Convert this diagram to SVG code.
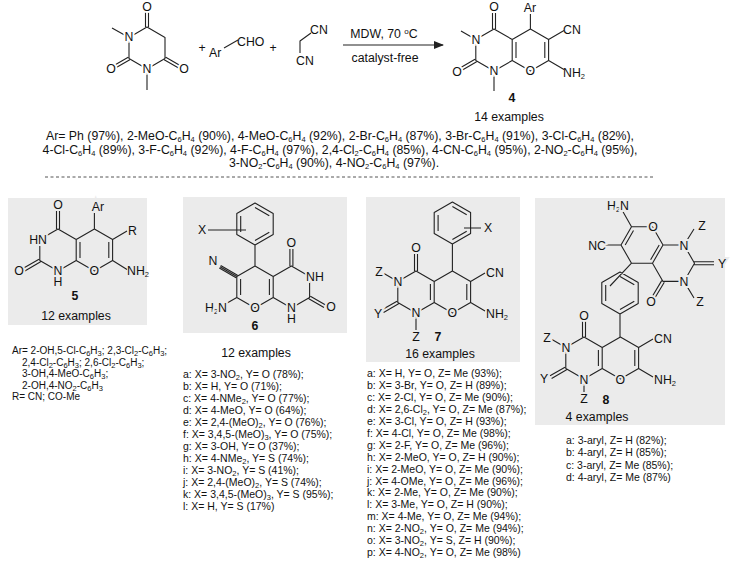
<svg xmlns="http://www.w3.org/2000/svg" width="732" height="563" viewBox="0 0 732 563">
<style>
text{font-family:"Liberation Sans",Arial,sans-serif;fill:#111}
.t{font-size:12.3px}
.l{font-size:10.5px}
.l5{font-size:10px}
.s{font-size:7.5px;baseline-shift:-2px}
.u{font-size:8px;baseline-shift:4px}
.b{font-weight:bold}
.c{text-anchor:middle}
.e{text-anchor:end}
.w{paint-order:stroke;stroke:#fff;stroke-width:4px}
.g{paint-order:stroke;stroke:#ebebeb;stroke-width:4px}
.bd{fill:none;stroke:#222;stroke-width:1.1;stroke-linejoin:round}
.box{fill:#ebebeb}
</style>
<defs><marker id="ah" markerWidth="10" markerHeight="8" refX="9" refY="4" orient="auto" markerUnits="userSpaceOnUse"><path d="M0,0 L10,4 L0,8 Z" fill="#222"/></marker></defs>
<rect class="box" x="8" y="198" width="139" height="127"/>
<rect class="box" x="183" y="197" width="164" height="136"/>
<rect class="box" x="366" y="197" width="154" height="165"/>
<rect class="box" x="535" y="198" width="190" height="227"/>
<g id="connectors">
<line x1="343" y1="45" x2="443" y2="45" stroke="#222" stroke-width="1.2" marker-end="url(#ah)"/>
<line x1="45" y1="177" x2="655" y2="177" stroke="#555" stroke-width="1" stroke-dasharray="3,2.5"/>
</g>
<g id="reactant1">
<path class="bd" d="M147,27 L165,37.5 L165,58.5 L147,69 L129,58.5 L129,37.5 Z M145.5,27 V12 M148.5,27 V12 M165.8,57.2 L180.5,65.7 M164.2,59.8 L179,68.3 M129.8,59.8 L115,68.3 M128.2,57.2 L113.5,65.7 M129,37.5 L112,28 M147,69 V90"/>
<text class="t c w" x="147" y="11">O</text><text class="t c w" x="129" y="41">N</text><text class="t c w" x="147" y="73">N</text><text class="t c w" x="111" y="73">O</text><text class="t c w" x="184" y="73">O</text>
</g>
<g id="aldehyde">
<text class="t c" x="202" y="52">+</text>
<path class="bd" d="M224,48 L238,40"/>
<text class="t" x="209" y="57">Ar</text><text class="t" x="237" y="46">CHO</text>
<text class="t c" x="273" y="52">+</text>
</g>
<g id="malononitrile">
<path class="bd" d="M311,33 L300,41 V53"/>
<text class="t" x="310" y="34">CN</text><text class="t c" x="305" y="65">CN</text>
</g>
<g id="conditions">
<text class="t c" x="384" y="38">MDW, 70 <tspan class="u">o</tspan>C</text>
<text class="t c" x="385" y="62">catalyst-free</text>
</g>
<g id="product4">
<path class="bd" d="M494,29 L512.2,39.5 L512.2,60.5 L494,71 L475.8,60.5 L475.8,39.5 Z M512.2,39.5 L530.4,29 L548.6,39.5 L548.6,60.5 L530.4,71 L512.2,60.5 M516,42 V58 M544.8,42 V58 M492.5,29 V13 M495.5,29 V13 M476.6,61.8 L462,70.3 M475,59.2 L460.4,67.7 M475.8,39.5 L461,31 M494,71 V91 M530.4,29 V14 M548.6,39.5 L564,30.5 M548.6,60.5 L564,69.5"/>
<text class="t c w" x="494" y="11">O</text><text class="t c w" x="530" y="12">Ar</text><text class="t c w" x="476" y="44">N</text><text class="t c w" x="494" y="75">N</text><text class="t c w" x="530.4" y="75">O</text><text class="t c w" x="457" y="76">O</text>
<text class="t" x="563" y="34">CN</text><text class="t" x="563" y="77">NH<tspan class="s">2</tspan></text>
<text class="t c b" x="512" y="102">4</text>
<text class="t c" x="509" y="121">14 examples</text>
</g>
<g id="arlist" class="t">
<text class="c" x="340" y="140">Ar= Ph (97%), 2-MeO-C<tspan class="s">6</tspan>H<tspan class="s">4</tspan> (90%), 4-MeO-C<tspan class="s">6</tspan>H<tspan class="s">4</tspan> (92%), 2-Br-C<tspan class="s">6</tspan>H<tspan class="s">4</tspan> (87%), 3-Br-C<tspan class="s">6</tspan>H<tspan class="s">4</tspan> (91%), 3-Cl-C<tspan class="s">6</tspan>H<tspan class="s">4</tspan> (82%),</text>
<text class="c" x="340" y="153.5">4-Cl-C<tspan class="s">6</tspan>H<tspan class="s">4</tspan> (89%), 3-F-C<tspan class="s">6</tspan>H<tspan class="s">4</tspan> (92%), 4-F-C<tspan class="s">6</tspan>H<tspan class="s">4</tspan> (97%), 2,4-Cl<tspan class="s">2</tspan>-C<tspan class="s">6</tspan>H<tspan class="s">4</tspan> (85%), 4-CN-C<tspan class="s">6</tspan>H<tspan class="s">4</tspan> (95%), 2-NO<tspan class="s">2</tspan>-C<tspan class="s">6</tspan>H<tspan class="s">4</tspan> (95%),</text>
<text class="c" x="334" y="167">3-NO<tspan class="s">2</tspan>-C<tspan class="s">6</tspan>H<tspan class="s">4</tspan> (90%), 4-NO<tspan class="s">2</tspan>-C<tspan class="s">6</tspan>H<tspan class="s">4</tspan> (97%).</text>
</g>
<g id="node5">
<path class="bd" d="M58,229 L76.2,239.5 L76.2,260.5 L58,271 L39.8,260.5 L39.8,239.5 Z M76.2,239.5 L94.4,229 L112.6,239.5 L112.6,260.5 L94.4,271 L76.2,260.5 M80,242 V258 M108.8,242 V258 M56.5,229 V211 M59.5,229 V211 M40.6,261.8 L24,271.4 M39,259.2 L22.4,268.8 M94.4,229 V213 M112.6,239.5 L127,231 M112.6,260.5 L127,269.5"/>
<text class="t c g" x="58" y="209">O</text><text class="t c g" x="98" y="211">Ar</text><text class="t e g" x="47" y="244">HN</text><text class="t c g" x="58" y="275">N</text><text class="t c" x="58" y="286">H</text><text class="t c g" x="94.4" y="275">O</text><text class="t c g" x="19" y="275">O</text>
<text class="t" x="128" y="235">R</text><text class="t" x="127" y="275">NH<tspan class="s">2</tspan></text>
<text class="t c b" x="75" y="300">5</text>
<text class="t c" x="76" y="320">12 examples</text>
</g>
<g id="list5" class="l5">
<text x="12" y="354">Ar= 2-OH,5-Cl-C<tspan class="s">6</tspan>H<tspan class="s">3</tspan>; 2,3-Cl<tspan class="s">2</tspan>-C<tspan class="s">6</tspan>H<tspan class="s">3</tspan>;</text>
<text x="22" y="365.5">2,4-Cl<tspan class="s">2</tspan>-C<tspan class="s">6</tspan>H<tspan class="s">3</tspan>; 2,6-Cl<tspan class="s">2</tspan>-C<tspan class="s">6</tspan>H<tspan class="s">3</tspan>;</text>
<text x="22" y="377">3-OH,4-MeO-C<tspan class="s">6</tspan>H<tspan class="s">3</tspan>;</text>
<text x="22" y="388.5">2-OH,4-NO<tspan class="s">2</tspan>-C<tspan class="s">6</tspan>H<tspan class="s">3</tspan></text>
<text x="12" y="400">R= CN; CO-Me</text>
</g>
<g id="node6">
<path class="bd" d="M255,266 L273.2,276.5 L273.2,297.5 L255,308 L236.8,297.5 L236.8,276.5 Z M273.2,276.5 L291.4,266 L309.6,276.5 L309.6,297.5 L291.4,308 L273.2,297.5 M269.4,279 V295 M240.6,279 V295 M289.9,266 V249 M292.9,266 V249 M308.8,298.8 L324,307.6 M310.4,296.2 L325.6,305 M236.8,297.5 L221,306.6 M236.8,276.5 L220,266.8 M237.5,275.3 L220.7,265.6 M236.1,277.7 L219.3,268 M255,203 L273.2,213.5 L273.2,234.5 L255,245 L236.8,234.5 L236.8,213.5 Z M255,207.5 L269.3,215.8 M269.3,232.2 L255,240.5 M240.7,232 V216 M255,245 V266 M208,230 L246,230"/>
<text class="t c g" x="291.4" y="247">O</text><text class="t g" x="306" y="281">NH</text><text class="t c g" x="291.4" y="312">N</text><text class="t c" x="291.4" y="323">H</text><text class="t c g" x="255" y="312">O</text><text class="t c g" x="331" y="311">O</text><text class="t c g" x="213" y="265">N</text><text class="t e g" x="227" y="312">H<tspan class="s">2</tspan>N</text><text class="t c g" x="202" y="234">X</text>
<text class="t c b" x="255" y="330">6</text>
</g>
<g id="list6" class="l">
<text class="t c" x="256" y="357">12 examples</text>
<text x="183" y="378">a: X= 3-NO<tspan class="s">2</tspan>, Y= O (78%);</text>
<text x="183" y="390">b: X= H, Y= O (71%);</text>
<text x="183" y="402">c: X= 4-NMe<tspan class="s">2</tspan>, Y= O (77%);</text>
<text x="183" y="414">d: X= 4-MeO, Y= O (64%);</text>
<text x="183" y="426">e: X= 2,4-(MeO)<tspan class="s">2</tspan>, Y= O (76%);</text>
<text x="183" y="438">f: X= 3,4,5-(MeO)<tspan class="s">3</tspan>, Y= O (75%);</text>
<text x="183" y="450">g: X= 3-OH, Y= O (37%);</text>
<text x="183" y="462">h: X= 4-NMe<tspan class="s">2</tspan>, Y= S (74%);</text>
<text x="183" y="474">i: X= 3-NO<tspan class="s">2</tspan>, Y= S (41%);</text>
<text x="183" y="486">j: X= 2,4-(MeO)<tspan class="s">2</tspan>, Y= S (74%);</text>
<text x="183" y="498">k: X= 3,4,5-(MeO)<tspan class="s">3</tspan>, Y= S (95%);</text>
<text x="183" y="510">l: X= H, Y= S (17%)</text>
</g>
<g id="node7">
<path class="bd" d="M416,271 L434.2,281.5 L434.2,302.5 L416,313 L397.8,302.5 L397.8,281.5 Z M434.2,281.5 L452.4,271 L470.6,281.5 L470.6,302.5 L452.4,313 L434.2,302.5 M430.4,284 V300 M466.8,284 V300 M414.5,271 V254 M417.5,271 V254 M397.8,281.5 L384,273.5 M397,301.2 L382,309.8 M398.6,303.8 L383.6,312.4 M416,313 V331 M470.6,281.5 L485,273 M470.6,302.5 L485,311 M452.4,202 L470.6,212.5 L470.6,233.5 L452.4,244 L434.2,233.5 L434.2,212.5 Z M452.4,206.5 L466.7,214.8 M466.7,231.2 L452.4,239.5 M438.1,231 V215 M452.4,244 V271 M464,228 L481,228"/>
<text class="t c g" x="416" y="252">O</text><text class="t c g" x="379" y="276">Z</text><text class="t c g" x="398" y="286">N</text><text class="t c g" x="378" y="318">Y</text><text class="t c g" x="416" y="317">N</text><text class="t c g" x="416" y="341">Z</text><text class="t c g" x="452.4" y="317">O</text>
<text class="t" x="486" y="277">CN</text><text class="t" x="486" y="318">NH<tspan class="s">2</tspan></text><text class="t c g" x="488" y="232">X</text>
<text class="t c b" x="438" y="341">7</text>
<text class="t c" x="440" y="358">16 examples</text>
</g>
<g id="list7" class="l">
<text x="367" y="377">a: X= H, Y= O, Z= Me (93%);</text>
<text x="367" y="389">b: X= 3-Br, Y= O, Z= H (89%);</text>
<text x="367" y="401">c: X= 2-Cl, Y= O, Z= Me (90%);</text>
<text x="367" y="413">d: X= 2,6-Cl<tspan class="s">2</tspan>, Y= O, Z= Me (87%);</text>
<text x="367" y="424.5">e: X= 3-Cl, Y= O, Z= H (93%);</text>
<text x="367" y="436.5">f: X= 4-Cl, Y= O, Z= Me (98%);</text>
<text x="367" y="448.5">g: X= 2-F, Y= O, Z= Me (96%);</text>
<text x="367" y="460.5">h: X= 2-MeO, Y= O, Z= H (90%);</text>
<text x="367" y="472.5">i: X= 2-MeO, Y= O, Z= Me (90%);</text>
<text x="367" y="484.5">j: X= 4-OMe, Y= O, Z= Me (96%);</text>
<text x="367" y="496">k: X= 2-Me, Y= O, Z= Me (90%);</text>
<text x="367" y="508">l: X= 3-Me, Y= O, Z= H (90%);</text>
<text x="367" y="520">m: X= 4-Me, Y= O, Z= Me (94%);</text>
<text x="367" y="532">n: X= 2-NO<tspan class="s">2</tspan>, Y= O, Z= Me (94%);</text>
<text x="367" y="544">o: X= 3-NO<tspan class="s">2</tspan>, Y= S, Z= H (90%);</text>
<text x="367" y="556">p: X= 4-NO<tspan class="s">2</tspan>, Y= O, Z= Me (98%)</text>
</g>
<g id="node8">
<path class="bd" d="M631.5,226.8 L652.5,226.8 L663,245 L652.5,263.2 L631.5,263.2 L621,245 Z M663,245 L684,245 L694.5,263.2 L684,281.4 L663,281.4 L652.5,263.2 M625.2,245 L633.5,230.5 M659.2,245 L650.6,259.8 M631.5,226.8 L622,210 M621,245 L605,245 M684,245 L694,229 M693.7,261.7 L714,261.7 M693.7,264.7 L714,264.7 M684,281.4 L694,298 M661.7,280.6 L651.5,297.7 M664.3,282.2 L654.1,299.3 M631.5,263.2 L610,286 M620,272 L638.2,282.5 L638.2,303.5 L620,314 L601.8,303.5 L601.8,282.5 Z M620,276.5 L634.3,284.8 M634.3,301.2 L620,309.5 M605.7,301 V285 M620,314 V337 M584,337 L602.2,347.5 L602.2,368.5 L584,379 L565.8,368.5 L565.8,347.5 Z M602.2,347.5 L620.4,337 L638.6,347.5 L638.6,368.5 L620.4,379 L602.2,368.5 M598.4,350 V366 M634.8,350 V366 M582.5,337 V320 M585.5,337 V320 M565.8,347.5 L552,339.5 M565,367.2 L550,375.8 M566.6,369.8 L551.6,378.4 M584,379 V393 M638.6,347.5 L653,339 M638.6,368.5 L653,377"/>
<text class="t e g" x="629" y="210">H<tspan class="s">2</tspan>N</text><text class="t c g" x="653" y="231">O</text><text class="t c g" x="684" y="249.5">N</text><text class="t c g" x="702" y="230">Z</text><text class="t c g" x="722" y="267.5">Y</text><text class="t c g" x="684" y="286">N</text><text class="t c g" x="700" y="306">Z</text><text class="t c g" x="651" y="306">O</text><text class="t e g" x="606" y="249.5">NC</text>
<text class="t c g" x="584" y="320">O</text><text class="t c g" x="547" y="342">Z</text><text class="t c g" x="566" y="352">N</text><text class="t c g" x="544" y="383">Y</text><text class="t c g" x="584" y="383.5">N</text><text class="t c g" x="584" y="403">Z</text><text class="t c g" x="620.4" y="383.5">O</text>
<text class="t" x="654" y="343">CN</text><text class="t" x="654" y="384">NH<tspan class="s">2</tspan></text>
<text class="t c b" x="606" y="404">8</text>
<text class="t c" x="597" y="421">4 examples</text>
</g>
<g id="list8" class="l">
<text x="566" y="443.5">a: 3-aryl, Z= H (82%);</text>
<text x="566" y="456">b: 4-aryl, Z= H (85%);</text>
<text x="566" y="468.5">c: 3-aryl, Z= Me (85%);</text>
<text x="566" y="481">d: 4-aryl, Z= Me (87%)</text>
</g>
</svg>
